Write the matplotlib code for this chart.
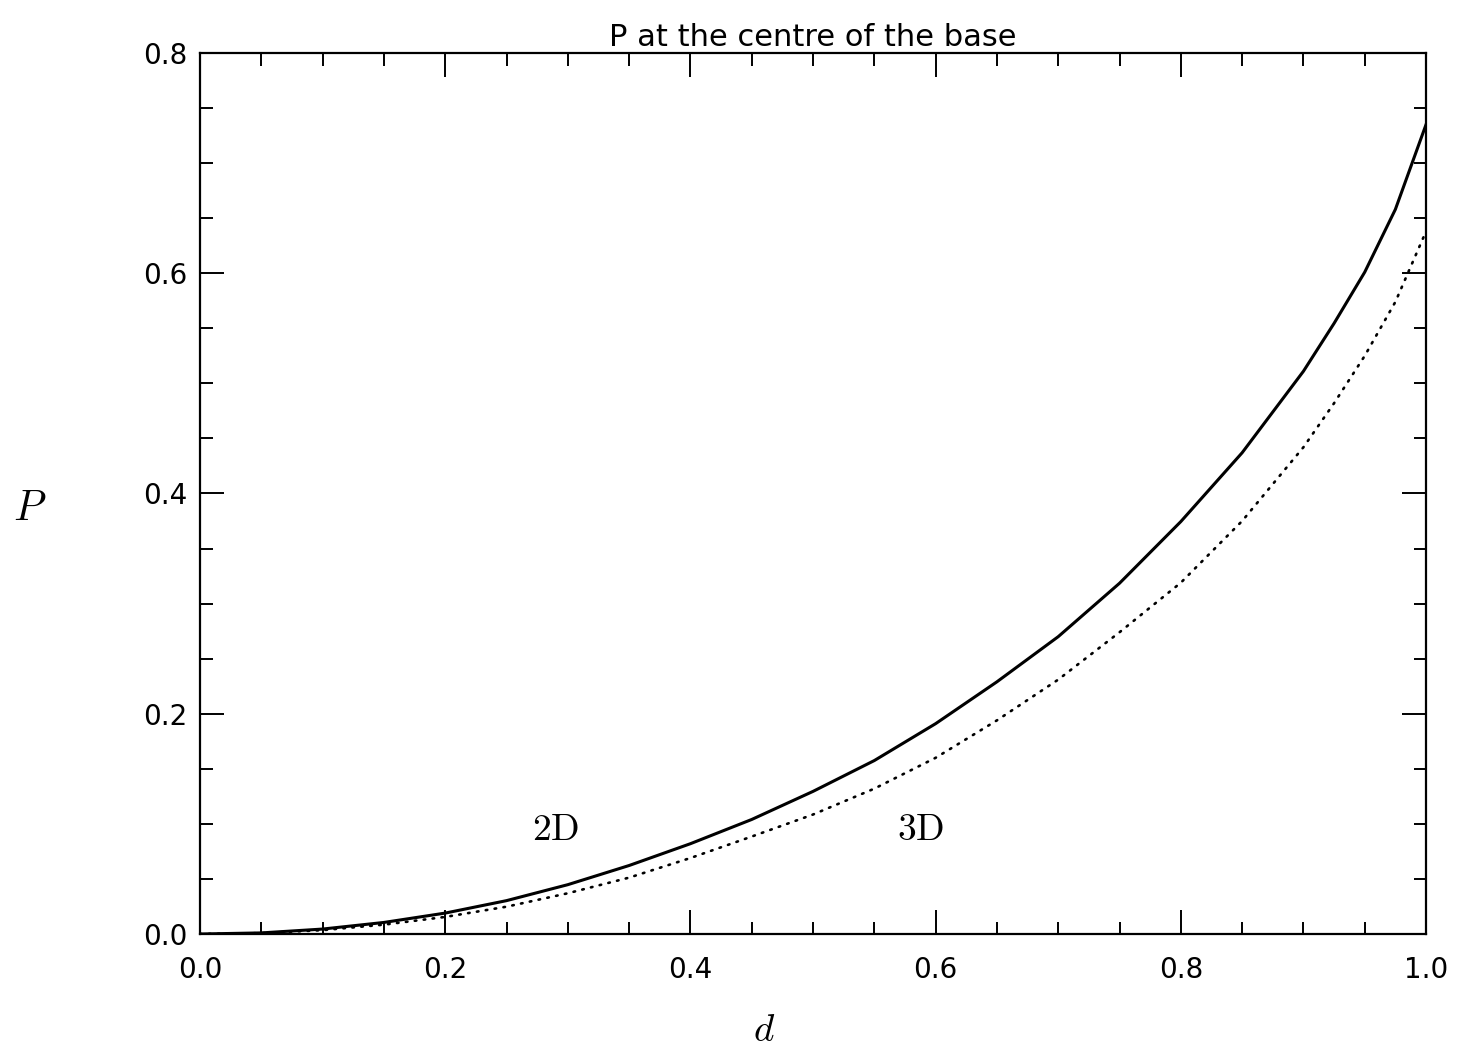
import matplotlib.pyplot as plt
from matplotlib.ticker import MultipleLocator, FormatStrFormatter

plt.rcParams["mathtext.fontset"] = "cm"

# pressure at the centre of the base against d, 2D and 3D cases
d = [0.0, 0.05, 0.1, 0.15, 0.2, 0.25, 0.3, 0.35, 0.4, 0.45, 0.5,
     0.55, 0.6, 0.65, 0.7, 0.75, 0.8, 0.85, 0.9, 0.925, 0.95, 0.975, 1.0]
p_2d = [0.0, 0.001, 0.0045, 0.0105, 0.019, 0.0303, 0.0448, 0.0622, 0.082, 0.104, 0.1295,
        0.1575, 0.191, 0.229, 0.270, 0.3185, 0.3745, 0.437, 0.511, 0.5545, 0.601, 0.658, 0.735]
p_3d = [0.0, 0.0008, 0.0035, 0.0085, 0.0155, 0.0248, 0.037, 0.0512, 0.069, 0.0885, 0.1085,
        0.132, 0.160, 0.194, 0.231, 0.274, 0.319, 0.375, 0.442, 0.482, 0.525, 0.574, 0.638]

fig = plt.figure(figsize=(14.62, 10.53), dpi=100)
ax = fig.add_axes([0.1368, 0.1130, 0.8386, 0.8367])

ax.plot(d, p_2d, color="black", lw=2.2, solid_joinstyle="round")
ax.plot(d, p_3d, color="black", lw=1.9, linestyle=(0, (0.6, 2.8)), dash_capstyle="round")

ax.set_xlim(0.0, 1.0)
ax.set_ylim(0.0, 0.8)
ax.xaxis.set_major_locator(MultipleLocator(0.2))
ax.xaxis.set_minor_locator(MultipleLocator(0.05))
ax.yaxis.set_major_locator(MultipleLocator(0.2))
ax.yaxis.set_minor_locator(MultipleLocator(0.05))
ax.xaxis.set_major_formatter(FormatStrFormatter("%.1f"))
ax.yaxis.set_major_formatter(FormatStrFormatter("%.1f"))

ax.tick_params(which="both", direction="in", top=True, right=True, width=1.4, labelsize=20)
ax.tick_params(which="major", length=17)
ax.tick_params(which="minor", length=9)
ax.tick_params(axis="x", which="major", pad=16)
ax.tick_params(axis="y", which="major", pad=9)
for lab in ax.get_xticklabels() + ax.get_yticklabels():
    lab.set_family("DejaVu Sans")
for sp in ax.spines.values():
    sp.set_linewidth(1.6)

ax.set_title("P at the centre of the base", family="DejaVu Sans", fontsize=22, pad=5)

# axis symbols placed in figure coordinates
fig.text(30 / 1462, 1 - 508 / 1053, "$P$", fontsize=30, ha="center", va="center")
fig.text(764 / 1462, 1 - 1030 / 1053, "$d$", fontsize=28, ha="center", va="center")

ax.text(0.2904, 0.0944, r"$\mathrm{2D}$", fontsize=27, ha="center", va="center")
ax.text(0.588, 0.0944, r"$\mathrm{3D}$", fontsize=27, ha="center", va="center")

fig.savefig("out.png", dpi=100)
